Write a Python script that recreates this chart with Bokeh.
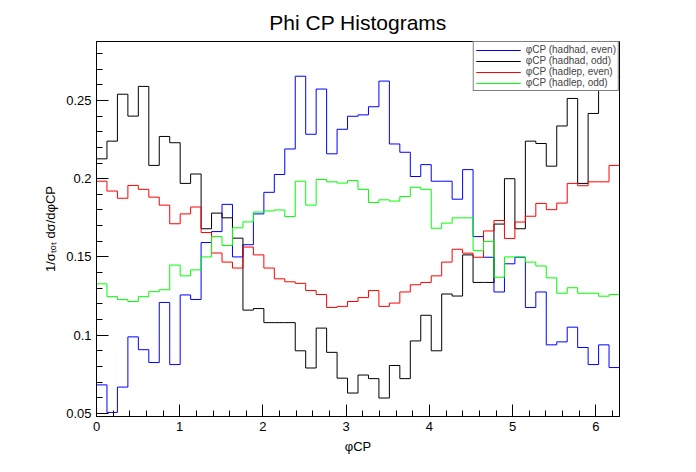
import math
from bokeh.plotting import figure
from bokeh.models import Range1d, FixedTicker, Legend, LegendItem
from bokeh.embed import file_html
from bokeh.resources import INLINE

# 50 bins from 0 to 2*pi
n_bins = 50
edges = [2 * math.pi * i / n_bins for i in range(n_bins + 1)]

hadhad_even = [0.0682, 0.0506, 0.0668, 0.0989, 0.0907, 0.0825, 0.1209, 0.0812, 0.1257, 0.1228,
               0.1592, 0.1662, 0.1836, 0.1500, 0.1578, 0.1775, 0.1913, 0.2027, 0.2190, 0.2655,
               0.2284, 0.2573, 0.2159, 0.2316, 0.2399, 0.2408, 0.2460, 0.2624, 0.2222, 0.2169,
               0.2014, 0.2090, 0.1984, 0.1984, 0.1869, 0.2058, 0.1630, 0.1498, 0.1276, 0.1456,
               0.1498, 0.1177, 0.1276, 0.0938, 0.0957, 0.1051, 0.0921, 0.0812, 0.0938, 0.0793]
hadhad_odd = [0.2127, 0.2240, 0.2540, 0.2400, 0.2590, 0.2085, 0.2270, 0.2230, 0.1970, 0.2030,
              0.1680, 0.1780, 0.1750, 0.1620, 0.1160, 0.1170, 0.1080, 0.1080, 0.1080, 0.0900,
              0.0790, 0.1045, 0.0890, 0.0725, 0.0630, 0.0745, 0.0722, 0.0598, 0.0806, 0.0722,
              0.0963, 0.1127, 0.0900, 0.1263, 0.1250, 0.1513, 0.1337, 0.1337, 0.1710, 0.2000,
              0.1680, 0.2240, 0.2225, 0.2080, 0.2337, 0.2513, 0.1970, 0.2417, 0.2700, 0.2650]
hadlep_even = [0.1984, 0.1921, 0.1875, 0.1957, 0.1932, 0.1882, 0.1831, 0.1712, 0.1775, 0.1819,
               0.1656, 0.1525, 0.1467, 0.1429, 0.1563, 0.1513, 0.1429, 0.1360, 0.1341, 0.1331,
               0.1285, 0.1260, 0.1177, 0.1184, 0.1215, 0.1240, 0.1285, 0.1184, 0.1205, 0.1276,
               0.1322, 0.1337, 0.1379, 0.1467, 0.1549, 0.1524, 0.1498, 0.1666, 0.1733, 0.1618,
               0.1723, 0.1760, 0.1842, 0.1802, 0.1844, 0.1970, 0.1955, 0.1980, 0.1980, 0.2085]
hadlep_odd = [0.1328, 0.1246, 0.1227, 0.1215, 0.1246, 0.1278, 0.1290, 0.1448, 0.1379, 0.1417,
              0.1500, 0.1630, 0.1573, 0.1686, 0.1724, 0.1787, 0.1794, 0.1800, 0.1758, 0.1984,
              0.1831, 0.1995, 0.1980, 0.1972, 0.1988, 0.1932, 0.1848, 0.1865, 0.1857, 0.1886,
              0.1945, 0.1932, 0.1683, 0.1716, 0.1750, 0.1750, 0.1540, 0.1599, 0.1370, 0.1500,
              0.1500, 0.1467, 0.1442, 0.1366, 0.1268, 0.1303, 0.1268, 0.1268, 0.1249, 0.1260]

series = [("\u03c6CP (hadhad, even)", hadhad_even, "#0000ff"),
          ("\u03c6CP (hadhad, odd)", hadhad_odd, "#000000"),
          ("\u03c6CP (hadlep, even)", hadlep_even, "#ff0000"),
          ("\u03c6CP (hadlep, odd)", hadlep_odd, "#00ff00")]

p = figure(width=680, height=456, output_backend="svg", toolbar_location=None,
           x_range=Range1d(0, 2 * math.pi), y_range=Range1d(0.048, 0.2877),
           min_border_left=96, min_border_right=61, min_border_top=0, min_border_bottom=39,
           title="Phi CP Histograms")
p.title.align = "center"
p.title.text_font = "Liberation Sans"
p.title.text_font_size = "21px"
p.title.text_font_style = "normal"
p.title.text_color = "black"
p.title.standoff = 16

p.grid.visible = False
p.outline_line_color = "black"
p.background_fill_color = "white"
p.border_fill_color = "white"

for ax in (p.xaxis, p.yaxis):
    ax.major_tick_in = 12
    ax.major_tick_out = 0
    ax.minor_tick_in = 6
    ax.minor_tick_out = 0
    ax.axis_line_color = "black"
    ax.major_label_text_font = "Liberation Sans"
    ax.major_label_text_font_size = "13px"
    ax.major_label_text_color = "black"
    ax.axis_label_text_font = "Liberation Sans"
    ax.axis_label_text_font_style = "normal"
    ax.axis_label_text_font_size = "13px"
    ax.axis_label_text_color = "black"

p.xaxis.ticker = FixedTicker(ticks=[0, 1, 2, 3, 4, 5, 6],
                             minor_ticks=[i / 5 for i in range(32)])
p.yaxis.ticker = FixedTicker(ticks=[0.05, 0.1, 0.15, 0.2, 0.25],
                             minor_ticks=[0.05 + i / 100 for i in range(24)])
p.yaxis.major_label_overrides = {0.05: "0.05", 0.1: "0.1", 0.15: "0.15", 0.2: "0.2", 0.25: "0.25"}
p.xaxis.axis_label = "\u03c6CP"
p.yaxis.axis_label = "1/\u03c3\u209c\u2092\u209c d\u03c3/d\u03c6CP"

items = []
for label, vals, color in series:
    r = p.step(x=edges, y=vals + [vals[-1]], mode="after", line_color=color, line_width=1)
    items.append(LegendItem(label=label, renderers=[r]))

legend = Legend(items=items, location="top_right", border_line_color="black",
                label_text_font="Liberation Sans", label_text_font_size="10px",
                label_height=10, glyph_height=10, glyph_width=45, spacing=0,
                padding=2, margin=0, background_fill_alpha=1.0)
p.add_layout(legend)

open("out.html", "w").write(file_html(p, INLINE))
